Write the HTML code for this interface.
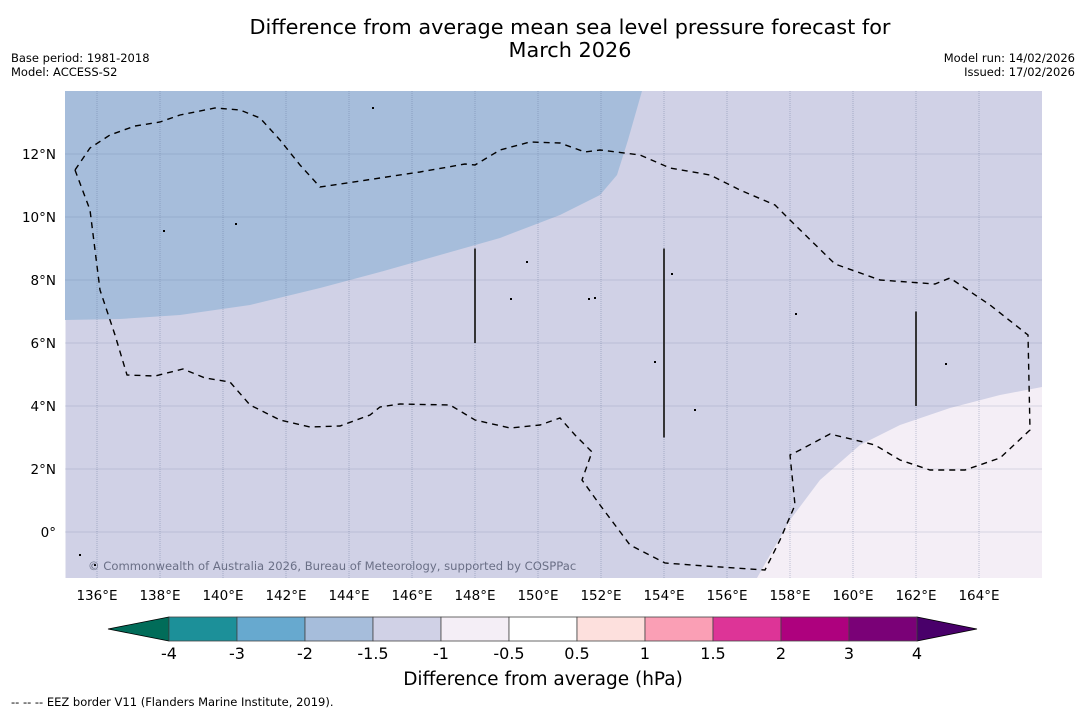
<!DOCTYPE html>
<html><head><meta charset="utf-8">
<style>
body{margin:0;background:#fff;width:1085px;height:713px;overflow:hidden;font-family:"Liberation Sans","DejaVu Sans",sans-serif;}
svg text{font-family:"DejaVu Sans","Liberation Sans",sans-serif;}
</style></head>
<body>
<svg id="chart" width="1085" height="713" xmlns="http://www.w3.org/2000/svg">
<text x="570" y="34" font-size="20.8" text-anchor="middle">Difference from average mean sea level pressure forecast for</text>
<text x="570" y="57" font-size="20.8" text-anchor="middle">March 2026</text>
<text x="11" y="62" font-size="11.5">Base period: 1981-2018</text>
<text x="11" y="76" font-size="11.5">Model: ACCESS-S2</text>
<text x="1075" y="62" font-size="11.5" text-anchor="end">Model run: 14/02/2026</text>
<text x="1075" y="76" font-size="11.5" text-anchor="end">Issued: 17/02/2026</text>
<g id="map"></g>
<g id="cbar"></g>
<text x="543" y="685" font-size="18.5" text-anchor="middle">Difference from average (hPa)</text>
<text x="11" y="706" font-size="11.5">--  --  -- EEZ border V11 (Flanders Marine Institute, 2019).</text>
</svg>
<script>
const lonTicks=[136,138,140,142,144,146,148,150,152,154,156,158,160,162,164];
const latTicks=[0,2,4,6,8,10,12];
const cbarBounds=["-4","-3","-2","-1.5","-1","-0.5","0.5","1","1.5","2","3","4"];
const cbarColors=["#1c9099","#67a9cf","#a6bddb","#d0d1e6","#f4eef6","#ffffff","#fde0dd","#fa9fb5","#dd3497","#ae017e","#7a0177"];
const extendLow="#016c59", extendHigh="#49006a";
const eezPx=[[75,170],[90,210],[95,250],[100,290],[115,335],[127,375],[155,376],[183,369],[205,378],[230,382],[250,405],[280,420],[310,427],[340,426],[370,415],[380,407],[400,404],[450,405],[475,420],[510,428],[540,425],[560,418],[575,435],[592,452],[582,480],[600,505],[630,545],[665,563],[705,566],[765,570],[780,540],[795,505],[790,455],[800,450],[830,434],[855,440],[875,445],[900,460],[930,470],[965,470],[1000,458],[1030,430],[1028,335],[990,305],[950,278],[935,284],[880,280],[835,264],[790,220],[775,205],[740,190],[710,175],[670,168],[640,155],[600,150],[585,152],[560,143],[530,142],[500,150],[475,165],[465,164],[420,172],[380,178],[320,187],[300,165],[280,140],[260,118],[240,110],[215,108],[180,115],[160,122],[135,126],[110,135],[90,148],[75,170]];
const bluePx=[[65,91],[642,91],[628,140],[617,175],[600,195],[560,215],[500,238],[440,255],[380,272],[320,288],[250,305],[180,315],[120,319],[65,320]];
const palePx=[[757,578],[770,555],[790,520],[820,480],[860,445],[900,425],[950,408],[1000,395],[1042,387],[1042,578]];
const boundaryLines=[[148,9,6],[154,9,3],[162,7,4]];
const X0=65.5,Y0=91,W=976.5,H=487;
const LON0=135,LON1=166,LAT1=14,LAT0=-1.46;
const x=lon=>X0+(lon-LON0)/(LON1-LON0)*W;
const y=lat=>Y0+(LAT1-lat)/(LAT1-LAT0)*H;
const toLL=p=>[LON0+(p[0]-X0)/W*(LON1-LON0), LAT1-(p[1]-Y0)/H*(LAT1-LAT0)];
const NS="http://www.w3.org/2000/svg";
function mk(tag,attrs,parent){const e=document.createElementNS(NS,tag);for(const k in attrs)e.setAttribute(k,attrs[k]);parent.appendChild(e);return e;}
const map=document.getElementById('map');
const bg=mk('rect',{x:X0,y:Y0,width:W,height:H,fill:'#d0d1e6'},map);


function poly(px,fill,name){const pts=px.map(toLL).map(p=>x(p[0])+','+y(p[1])).join(' ');const e=mk('polygon',{points:pts,fill:fill},map);

}
poly(bluePx,'#a6bddb','anomaly-region-minus2');
poly(palePx,'#f4eef6','anomaly-region-minus1');
lonTicks.forEach(l=>{const g=mk('line',{x1:x(l),x2:x(l),y1:Y0,y2:Y0+H,stroke:'#5a6a90','stroke-opacity':0.45,'stroke-width':0.8,'stroke-dasharray':'1,1'},map);


const t=mk('text',{x:x(l),y:600,'font-size':13.5,'text-anchor':'middle'},map);t.textContent=l+'°E';

});
latTicks.forEach(l=>{const g=mk('line',{x1:X0,x2:X0+W,y1:y(l),y2:y(l),stroke:'#5a6a90','stroke-opacity':0.5,'stroke-width':0.8,'stroke-dasharray':'1,1'},map);


const t=mk('text',{x:56,y:y(l)+5,'font-size':13.5,'text-anchor':'end'},map);t.textContent=l===0?'0°':l+'°N';

});
const eez=mk('polyline',{points:eezPx.map(toLL).map(p=>x(p[0])+','+y(p[1])).join(' '),fill:'none',stroke:'#000','stroke-width':1.4,'stroke-dasharray':'6,5'},map);


boundaryLines.forEach(b=>{const e=mk('line',{x1:x(b[0]),x2:x(b[0]),y1:y(b[1]),y2:y(b[2]),stroke:'#222','stroke-width':1.8},map);

});
const islands=[[164,231],[373,108],[589,299],[595,298],[796,314],[672,274],[946,364],[655,362],[80,555],[95,565],[236,224],[527,262],[511,299],[695,410]];
islands.forEach(p=>{const e=mk('rect',{x:p[0]-1,y:p[1]-1,width:2,height:2,fill:'#000'},map);

});
const cr=mk('text',{x:88,y:570,'font-size':11.6,fill:'#6a6f86'},map);cr.textContent='© Commonwealth of Australia 2026, Bureau of Meteorology, supported by COSPPac';


const cb=document.getElementById('cbar');
const CX0=169,CX1=917,CY=617,CH=24,n=cbarColors.length,bw=(CX1-CX0)/n;
const lt=mk('polygon',{points:`108,${CY+CH/2} ${CX0},${CY} ${CX0},${CY+CH}`,fill:extendLow,stroke:'#000','stroke-width':0.8},cb);


const rt=mk('polygon',{points:`977,${CY+CH/2} ${CX1},${CY} ${CX1},${CY+CH}`,fill:extendHigh,stroke:'#000','stroke-width':0.8},cb);


cbarColors.forEach((c,i)=>{const r=mk('rect',{x:CX0+i*bw,y:CY,width:bw,height:CH,fill:c,stroke:'#444','stroke-width':0.8},cb);

});
cbarBounds.forEach((s,i)=>{const t=mk('text',{x:CX0+i*bw,y:659,'font-size':16,'text-anchor':'middle'},cb);t.textContent=s;

});
</script>
</body></html>
